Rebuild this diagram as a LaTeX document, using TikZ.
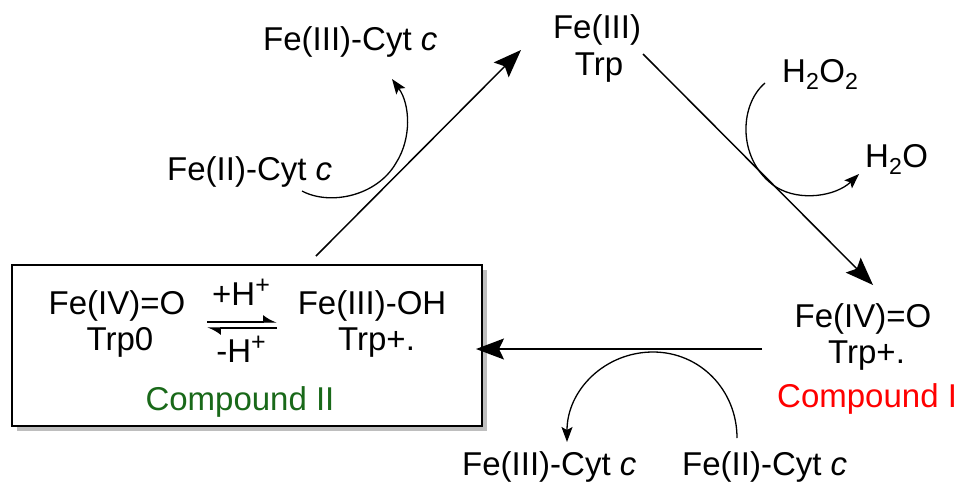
\documentclass[tikz,border=0pt]{standalone}
\usepackage{fontspec}
\setmainfont{Liberation Sans}
\usetikzlibrary{arrows.meta}
\definecolor{cpdgreen}{RGB}{25,105,25}
\definecolor{cpdred}{RGB}{255,0,0}
\definecolor{shadowgray}{RGB}{190,190,190}
\newcommand{\chargeup}{\raisebox{0.36em}{\fontsize{25}{25}\selectfont +}}
\tikzset{
  lbl/.style={inner sep=0pt, font=\fontsize{33}{37}\selectfont},
  mainarrow/.style={line width=1.5pt, -{Stealth[length=28pt,width=21pt,inset=5pt]}},
  curly/.style={line width=1.3pt, -{Stealth[length=15pt,width=11pt,inset=3pt]}},
  eqarrow/.style={line width=1.4pt},
}
\begin{document}
\begin{tikzpicture}[x=1pt,y=-1pt]
\useasboundingbox (0,0) rectangle (971,483);

% Compound II box with drop shadow
\fill[shadowgray] (17,270) rectangle (487,431);
\draw[line width=2pt, fill=white] (12,265) rectangle (482,426);

% species inside the box
\node[lbl, anchor=base] (c2feo) at (117,314) {Fe(IV)=O};
\node[lbl, anchor=base] (c2trp) at (120,350) {Trp0};
\node[lbl, anchor=base] (plush) at (241,305) {+H\chargeup};
\node[lbl, anchor=base] (minush) at (241,362) {-H\chargeup};
\node[lbl, anchor=base] (c2feoh) at (372,314) {Fe(III)-OH};
\node[lbl, anchor=base west] (c2trpr) at (338,350) {Trp+.};
\node[lbl, anchor=base, text=cpdgreen] (cpd2) at (240,410) {Compound II};

% equilibrium harpoons
\coordinate (eqA) at (207,322);
\coordinate (eqB) at (277,322);
\coordinate (eqC) at (277,328);
\coordinate (eqD) at (207,328);
\draw[eqarrow, -{Latex[left,length=12pt,width=14pt]}] (eqA) -- (eqB);
\draw[eqarrow, -{Latex[left,length=12pt,width=14pt]}] (eqC) -- (eqD);

% resting state
\node[lbl, anchor=base] (restfe) at (597,38) {Fe(III)};
\node[lbl, anchor=base] (resttrp) at (599,75) {Trp};

% compound I
\node[lbl, anchor=base] (c1feo) at (863,327) {Fe(IV)=O};
\node[lbl, anchor=base west] (c1trp) at (828,363) {Trp+.};
\node[lbl, anchor=base west, text=cpdred] (cpd1) at (777,407) {Compound I};

% co-substrates
\node[lbl, anchor=base west] (hoo) at (782,82) {H\textsubscript{2}O\textsubscript{2}};
\node[lbl, anchor=base west] (ho) at (865,167) {H\textsubscript{2}O};
\node[lbl, anchor=base west] (cyt3a) at (263,50) {Fe(III)-Cyt \textit{c}};
\node[lbl, anchor=base west] (cyt2a) at (167,180) {Fe(II)-Cyt \textit{c}};
\node[lbl, anchor=base west] (cyt3b) at (462,475) {Fe(III)-Cyt \textit{c}};
\node[lbl, anchor=base west] (cyt2b) at (682,475) {Fe(II)-Cyt \textit{c}};

% cycle arrows
\coordinate (restOut) at (643,54);
\coordinate (c1In) at (873,285);
\coordinate (c1Out) at (762,349);
\coordinate (c2In) at (476,349);
\coordinate (c2Out) at (316,256);
\coordinate (restIn) at (521,50);
\draw[mainarrow] (restOut) -- (c1In);
\draw[mainarrow] (c1Out) -- (c2In);
\draw[mainarrow] (c2Out) -- (restIn);

% electron / peroxide curly arrows
\coordinate (hooS) at (765,83);
\coordinate (hoE) at (859,174);
\draw[curly] (hooS) .. controls (738,106) and (738,162) .. (776,187)
                    .. controls (800,202) and (836,196) .. (hoE);
\coordinate (cyt2aS) at (302,191);
\coordinate (cyt3aE) at (392,79);
\draw[curly] (cyt2aS) .. controls (330,206) and (377,196) .. (396,163)
                      .. controls (412,138) and (410,104) .. (cyt3aE);
\coordinate (cyt2bS) at (737,438);
\coordinate (cyt3bE) at (567,442);
\draw[curly] (cyt2bS) .. controls (737,390) and (700,352) .. (653,352)
                      .. controls (605,352) and (567,390) .. (cyt3bE);
\end{tikzpicture}
\end{document}
